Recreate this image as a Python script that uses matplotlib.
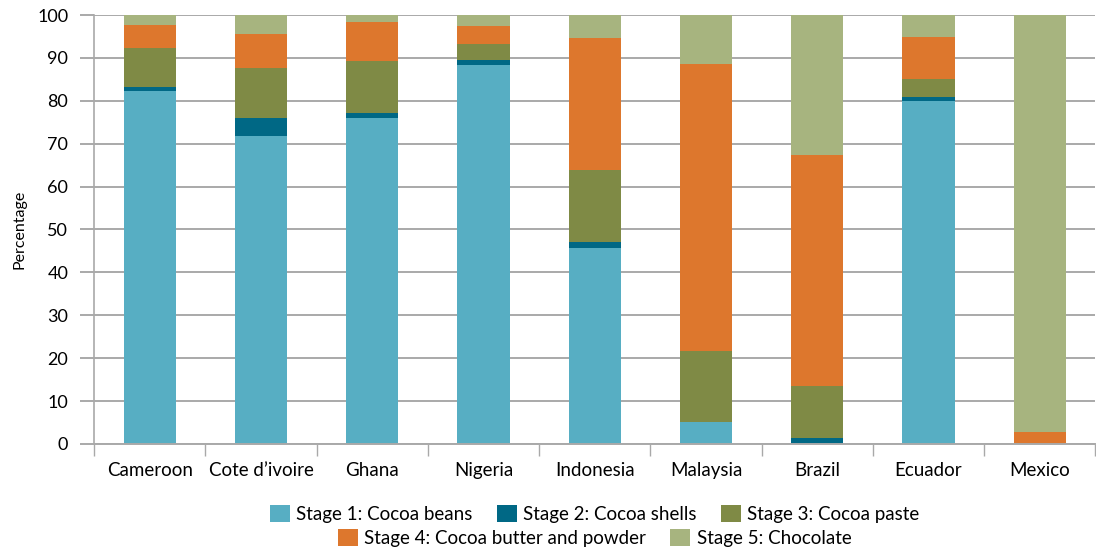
import numpy as np
import matplotlib
matplotlib.use("Agg")
import matplotlib.pyplot as plt
from matplotlib.patches import Patch

plt.rcParams['font.family'] = ['Lato', 'DejaVu Sans']

countries = ["Cameroon", "Cote d\u2019ivoire", "Ghana", "Nigeria", "Indonesia",
             "Malaysia", "Brazil", "Ecuador", "Mexico"]

# shares per stage (percent)
beans = [82.3, 71.8, 76.0, 88.3, 45.7, 5.1, 0.0, 80.0, 0.0]
shells = [0.9, 4.2, 1.2, 1.2, 1.4, 0.0, 1.3, 0.9, 0.0]
paste = [9.1, 11.6, 12.1, 3.7, 16.8, 16.6, 12.2, 4.2, 0.0]
butter = [5.3, 8.0, 9.1, 4.2, 30.7, 66.9, 53.9, 9.8, 2.8]
chocolate = [2.4, 4.4, 1.6, 2.6, 5.4, 11.4, 32.6, 5.1, 97.2]

stages = ["Stage 1: Cocoa beans", "Stage 2: Cocoa shells", "Stage 3: Cocoa paste",
          "Stage 4: Cocoa butter and powder", "Stage 5: Chocolate"]
colors = ["#57AEC3", "#006885", "#7F8A45", "#DD772D", "#A7B47F"]

fig = plt.figure(figsize=(10.96, 5.52), dpi=100)
ax = fig.add_axes([0.0858, 0.1957, 0.9137, 0.7771])

x = np.arange(len(countries))
bottom = np.zeros(len(countries))
for vals, col in zip([beans, shells, paste, butter, chocolate], colors):
    ax.bar(x, vals, width=0.47, bottom=bottom, color=col, zorder=2)
    bottom += np.array(vals)

grid_col = "#A9A9A9"
ax.set_xlim(-0.5, len(countries) - 0.5)
ax.set_ylim(0, 100)
ax.set_yticks(range(0, 101, 10))
ax.yaxis.grid(True, color=grid_col, linewidth=1.4)
ax.set_axisbelow(True)

ax.set_xticks(x)
ax.set_xticklabels(countries, fontsize=13.5)
ax.set_xticks(np.arange(-0.5, len(countries), 1), minor=True)
ax.tick_params(axis="x", which="major", length=0, pad=13)
ax.tick_params(axis="x", which="minor", length=8.5, width=1, color=grid_col)
ax.tick_params(axis="y", length=10, width=1.4, color=grid_col, pad=8.5, labelsize=13)

for s in ["top", "right"]:
    ax.spines[s].set_visible(False)
ax.spines["left"].set_color(grid_col)
ax.spines["left"].set_linewidth(1.2)
ax.spines["bottom"].set_color(grid_col)
ax.spines["bottom"].set_linewidth(1.4)

ax.set_ylabel("Percentage", fontsize=11.5, labelpad=8)

handles = [Patch(facecolor=c, edgecolor="none") for c in colors]
leg_kw = dict(frameon=False, fontsize=13.5, handlelength=1.05, handleheight=1.05,
              handletextpad=0.35, columnspacing=1.3, borderpad=0, borderaxespad=0)
leg1 = ax.legend(handles[:3], stages[:3], ncol=3, loc="center",
                 bbox_to_anchor=(0.5, -0.163), **leg_kw)
ax.add_artist(leg1)
ax.legend(handles[3:], stages[3:], ncol=2, loc="center",
          bbox_to_anchor=(0.5, -0.219), **leg_kw)

fig.savefig("out.png", dpi=100)
